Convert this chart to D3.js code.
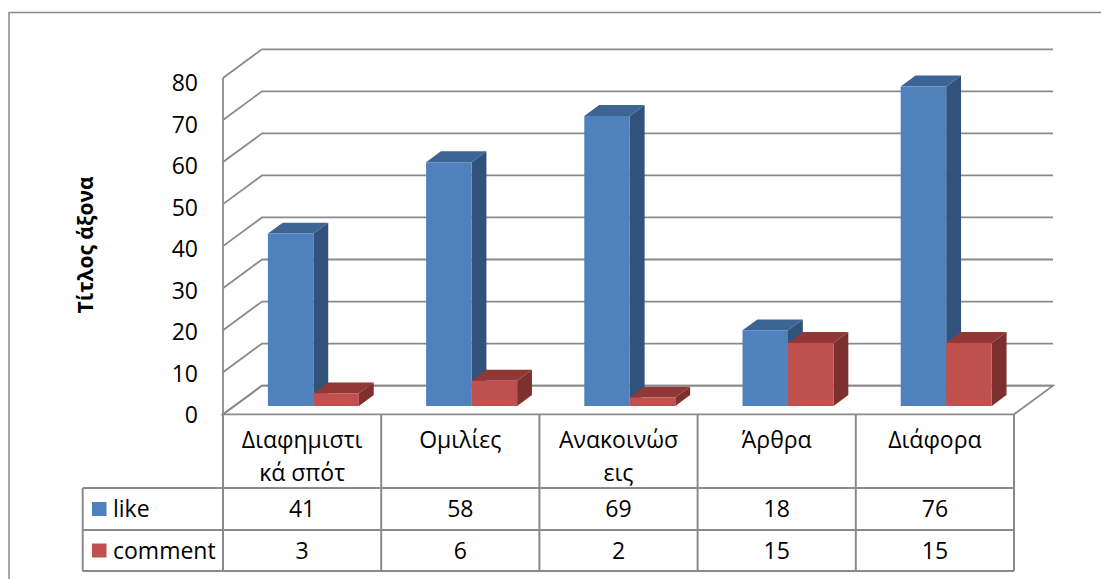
<!DOCTYPE html>
<html>
<head>
<meta charset="utf-8">
<script src="https://cdn.jsdelivr.net/npm/d3@7"></script>
<style>
  body { margin: 0; background: #fff; }
  text { font-family: "Open Sans", sans-serif; fill: #000; }
</style>
</head>
<body>
<div id="chart"></div>
<script>
// category labels, split the way the data table wraps them
var catLines = [["Διαφημιστι", "κά σπότ"], ["Ομιλίες"], ["Ανακοινώσ", "εις"], ["Άρθρα"], ["Διάφορα"]];
var categories = catLines.map(function(l) { return l.join(""); });
var seriesNames = ["like", "comment"];
var likeValues = [41, 58, 69, 18, 76];
var commentValues = [3, 6, 2, 15, 15];
var yTicks = [0, 10, 20, 30, 40, 50, 60, 70, 80];
var axisTitle = "Τίτλος άξονα";

var w = 1101, h = 579;
var svg = d3.select("#chart").append("svg")
    .attr("width", w)
    .attr("height", h);

// outer chart border (right/bottom edges fall outside the picture)
svg.append("rect")
    .attr("x", 9).attr("y", 12.5)
    .attr("width", 1200).attr("height", 700)
    .attr("fill", "none").attr("stroke", "#8a8a8a").attr("stroke-width", 1.5);

// plot geometry
var x0 = 223, x1 = 1014;
var depthX = 39, depthY = -28.7;
var y = d3.scaleLinear().domain([0, 80]).range([414.3, 78]);
var yLab = d3.scaleLinear().domain([0, 80]).range([415, 83]);
var x = d3.scaleBand().domain(categories).range([x0, x1]);
var xs = d3.scaleBand().domain(seriesNames).range([0, x.bandwidth()]).paddingOuter(0.738);

// projection: front plane x, value, depth z (0 front .. 1 back)
function P(px, v, z) { return [px + depthX * z, y(v) + depthY * z]; }

var grid = svg.append("g").attr("stroke", "#8a8a8a").attr("stroke-width", 1.8).attr("fill", "none");

// floor
var floorPts = [P(x0, 0, 0), P(x1, 0, 0), P(x1, 0, 1), P(x0, 0, 1)];
grid.append("path").attr("d", "M" + floorPts.join("L") + "Z").attr("fill", "#fff");

// gridlines on side wall and back wall
yTicks.forEach(function(t) {
    var a = P(x0, t, 0), b = P(x0, t, 1), c = P(x1, t, 1);
    grid.append("path").attr("d", "M" + a + "L" + b + "L" + c);
});
grid.append("line")
    .attr("x1", x0).attr("x2", x0)
    .attr("y1", y(80)).attr("y2", y(0));

// y tick labels
svg.append("g").selectAll("text")
    .data(yTicks).enter().append("text")
    .attr("x", 198).attr("y", function(d) { return yLab(d); })
    .attr("dy", "0.36em")
    .attr("text-anchor", "end")
    .attr("font-size", 23)
    .text(function(d) { return d; });

// axis title
svg.append("text")
    .attr("transform", "translate(93,245) rotate(-90)")
    .attr("text-anchor", "middle")
    .attr("font-size", 21)
    .attr("font-weight", "bold")
    .text(axisTitle);

// bars
var colors = {
    like: { front: "#4f81bd", side: "#31527a", top: "#3c6494" },
    comment: { front: "#c0504d", side: "#7d302e", top: "#913836" }
};
var zf = 0.29, zb = 0.67;
var bars = [];
categories.forEach(function(c, i) {
    bars.push({ cat: c, s: "like", v: likeValues[i] });
    bars.push({ cat: c, s: "comment", v: commentValues[i] });
});
function poly(pts) { return "M" + pts.join("L") + "Z"; }
var bg = svg.append("g");
bars.forEach(function(d) {
    var xa = x(d.cat) + xs(d.s), xb = xa + xs.bandwidth();
    var col = colors[d.s];
    var g = bg.append("g");
    g.append("path").attr("fill", col.side)
        .attr("d", poly([P(xb, 0, zf), P(xb, d.v, zf), P(xb, d.v, zb), P(xb, 0, zb)]));
    g.append("path").attr("fill", col.top)
        .attr("d", poly([P(xa, d.v, zf), P(xb, d.v, zf), P(xb, d.v, zb), P(xa, d.v, zb)]));
    g.append("path").attr("fill", col.front)
        .attr("d", poly([P(xa, 0, zf), P(xb, 0, zf), P(xb, d.v, zf), P(xa, d.v, zf)]));
});

// data table
var tLeft = 82.7, rowH = 488, row1 = 530, row2 = 571;
var tbl = svg.append("g").attr("stroke", "#8a8a8a").attr("stroke-width", 2).attr("fill", "none");
var bounds = categories.map(function(c) { return x(c); }).concat([x1]);
bounds.forEach(function(bx) {
    tbl.append("line").attr("x1", bx).attr("x2", bx).attr("y1", y(0)).attr("y2", row2);
});
tbl.append("line").attr("x1", tLeft).attr("x2", tLeft).attr("y1", rowH).attr("y2", row2);
[rowH, row1, row2].forEach(function(ry) {
    tbl.append("line").attr("x1", tLeft).attr("x2", x1).attr("y1", ry).attr("y2", ry);
});

// header labels
catLines.forEach(function(lines, i) {
    var cx = x(categories[i]) + x.bandwidth() / 2;
    lines.forEach(function(l, j) {
        svg.append("text")
            .attr("x", cx).attr("y", 447.7 + j * 33.5)
            .attr("text-anchor", "middle")
            .attr("font-size", 23)
            .text(l);
    });
});

// value rows + legend keys
var rows = [
    { name: "like", vals: likeValues, cy: (rowH + row1) / 2 },
    { name: "comment", vals: commentValues, cy: (row1 + row2) / 2 }
];
rows.forEach(function(r) {
    svg.append("rect")
        .attr("x", 92).attr("y", r.cy - 7)
        .attr("width", 14.5).attr("height", 14)
        .attr("fill", colors[r.name].front);
    svg.append("text")
        .attr("x", 113).attr("y", r.cy).attr("dy", "0.36em")
        .attr("font-size", 23)
        .text(r.name);
    r.vals.forEach(function(v, i) {
        svg.append("text")
            .attr("x", x(categories[i]) + x.bandwidth() / 2)
            .attr("y", r.cy).attr("dy", "0.36em")
            .attr("text-anchor", "middle")
            .attr("font-size", 23)
            .text(v);
    });
});
</script>
</body>
</html>
